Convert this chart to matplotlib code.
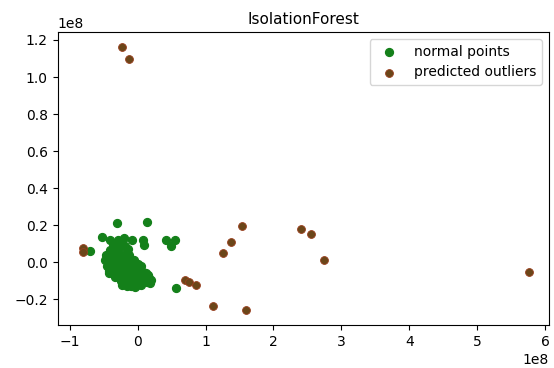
import numpy as np
import matplotlib
matplotlib.use("Agg")
import matplotlib.pyplot as plt

# normal points (values in units of 1e8)
normal_x = [-0.30, 0.13, -0.53, -0.41, -0.29, -0.20, -0.09, 0.08, 0.10, 0.42,
            0.55, 0.49, -0.19, -0.27, -0.41, -0.17, -0.34, -0.44, -0.22, -0.09,
            -0.44, 0.57, -0.71, -0.36, -0.24, -0.15, -0.47, -0.38, -0.31, -0.26,
            -0.20, -0.13, -0.06, 0.00, 0.05, -0.45, -0.40, -0.35, -0.30, -0.25,
            -0.18, -0.12, -0.04, 0.02, 0.08, 0.12, -0.42, -0.37, -0.32, -0.27,
            -0.21, -0.16, -0.10, -0.03, 0.04, 0.10, 0.16, 0.20, -0.33, -0.28,
            -0.22, -0.17, -0.11, -0.05, 0.01, 0.07, 0.13, 0.18, -0.25, -0.19,
            -0.13, -0.07, -0.01, 0.05, -0.16, -0.10, -0.04, 0.15, -0.48, -0.43,
            -0.33, -0.23, -0.14, 0.03]
normal_y = [0.214, 0.219, 0.136, 0.123, 0.123, 0.132, 0.123, 0.123, 0.096, 0.118,
            0.118, 0.087, 0.087, 0.078, 0.069, 0.051, 0.033, 0.024, 0.015, 0.005,
            -0.012, -0.139, 0.060, 0.100, 0.105, 0.070, 0.040, 0.045, 0.060, 0.040,
            0.030, 0.040, 0.010, -0.010, -0.020, -0.020, -0.010, 0.000, -0.005, -0.015,
            -0.010, -0.020, -0.030, -0.040, -0.050, -0.060, -0.045, -0.035, -0.030, -0.040,
            -0.045, -0.050, -0.055, -0.065, -0.070, -0.080, -0.085, -0.095, -0.060, -0.065,
            -0.075, -0.080, -0.085, -0.090, -0.095, -0.100, -0.105, -0.110, -0.100, -0.105,
            -0.110, -0.115, -0.120, -0.125, -0.128, -0.130, -0.135, -0.070, 0.010, -0.060,
            -0.080, -0.120, -0.000, -0.085]

# predicted outliers
outlier_x = [-0.23, -0.13, -0.81, -0.80, 0.69, 0.75, 0.86, 1.11, 1.26, 1.37,
             1.53, 1.59, 2.40, 2.55, 2.75, 5.77]
outlier_y = [1.162, 1.099, 0.075, 0.055, -0.094, -0.105, -0.120, -0.236, 0.051, 0.108,
             0.195, -0.256, 0.181, 0.152, 0.011, -0.054]

fig = plt.figure(figsize=(5.54, 3.68), dpi=100)
ax = fig.add_axes([0.104, 0.117, 0.887, 0.796])

ax.scatter(np.array(normal_x) * 1e8, np.array(normal_y) * 1e8, s=32,
           c='#14801a', label='normal points')
ax.scatter(np.array(outlier_x) * 1e8, np.array(outlier_y) * 1e8, s=32,
           c='#6b4619', edgecolors='#9a3f1e', linewidths=0.6,
           label='predicted outliers')

ax.set_xlim(-1.18e8, 6.06e8)
ax.set_ylim(-0.338e8, 1.243e8)
ax.set_title("IsolationForest", fontsize=11)
ax.legend(loc='upper right')

fig.savefig("out.png", dpi=100)
